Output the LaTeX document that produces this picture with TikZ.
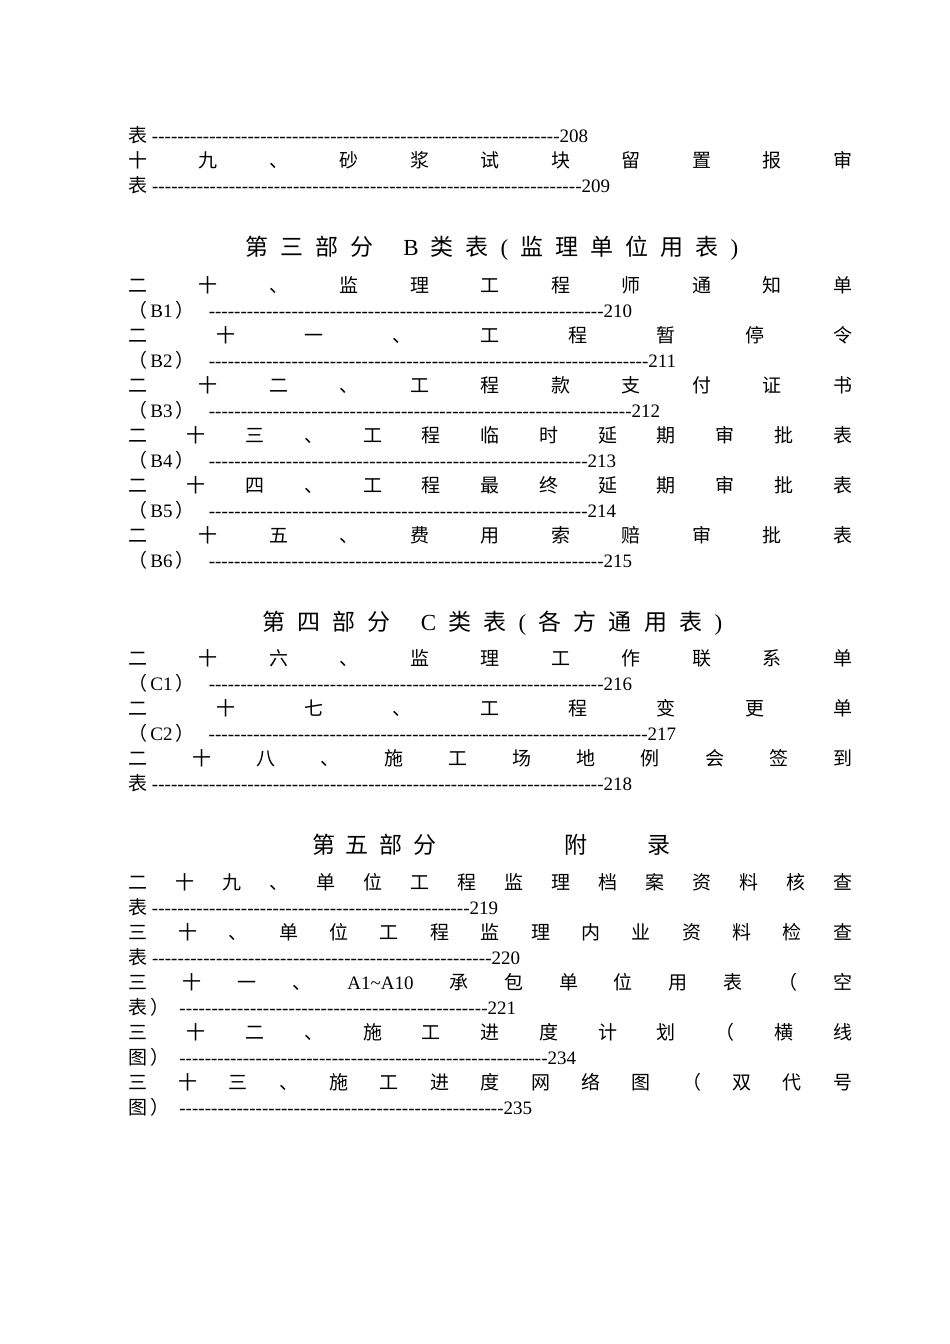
\documentclass[tikz,border=0pt]{standalone}
\usepackage{fontspec}
\setmainfont{Liberation Serif}
\newfontfamily\cjk{Noto Sans CJK SC}
\newcommand\Cc[1]{{\cjk #1}}
\newcommand\Jl[2]{\node[anchor=base west,inner sep=0,font=\fontsize{19}{19}\selectfont] (j#1) at (128pt,-#1pt) {\makebox[724pt][s]{#2}};}
\newcommand\Dl[4]{\node[anchor=base west,inner sep=0,font=\fontsize{19}{19}\selectfont] (d#1) at (128pt,-#1pt) {\makebox[#2pt][l]{#3\xleaders\hbox{-}\hfill #4}};}
\newcommand\Hd[4]{\node[anchor=base west,inner sep=0,font=\fontsize{23}{23}\selectfont] (h#1) at (#2pt,-#1pt) {\makebox[#3pt][s]{#4}};}
\newcommand\ff{\hfill}
\begin{document}
\begin{tikzpicture}
\useasboundingbox (0,0) rectangle (950pt,-1344pt);
\Dl{142}{460}{\Cc{表}\ }{208}
\Jl{167}{\Cc{十}\ff\Cc{九}\ff\Cc{、}\ff\Cc{砂}\ff\Cc{浆}\ff\Cc{试}\ff\Cc{块}\ff\Cc{留}\ff\Cc{置}\ff\Cc{报}\ff\Cc{审}}
\Dl{192}{482}{\Cc{表}\ }{209}
\Hd{255}{245}{493}{\Cc{第}\ff\Cc{三}\ff\Cc{部}\ff\Cc{分}\hspace{30pt}B\ff\Cc{类}\ff\Cc{表}\ff(\ff\Cc{监}\ff\Cc{理}\ff\Cc{单}\ff\Cc{位}\ff\Cc{用}\ff\Cc{表}\ff)}
\Jl{292}{\Cc{二}\ff\Cc{十}\ff\Cc{、}\ff\Cc{监}\ff\Cc{理}\ff\Cc{工}\ff\Cc{程}\ff\Cc{师}\ff\Cc{通}\ff\Cc{知}\ff\Cc{单}}
\Dl{317}{504}{\Cc{（}\,B1\,\Cc{）}\hspace{14pt}}{210}
\Jl{342}{\Cc{二}\ff\Cc{十}\ff\Cc{一}\ff\Cc{、}\ff\Cc{工}\ff\Cc{程}\ff\Cc{暂}\ff\Cc{停}\ff\Cc{令}}
\Dl{367}{548}{\Cc{（}\,B2\,\Cc{）}\hspace{14pt}}{211}
\Jl{392}{\Cc{二}\ff\Cc{十}\ff\Cc{二}\ff\Cc{、}\ff\Cc{工}\ff\Cc{程}\ff\Cc{款}\ff\Cc{支}\ff\Cc{付}\ff\Cc{证}\ff\Cc{书}}
\Dl{417}{532}{\Cc{（}\,B3\,\Cc{）}\hspace{14pt}}{212}
\Jl{442}{\Cc{二}\ff\Cc{十}\ff\Cc{三}\ff\Cc{、}\ff\Cc{工}\ff\Cc{程}\ff\Cc{临}\ff\Cc{时}\ff\Cc{延}\ff\Cc{期}\ff\Cc{审}\ff\Cc{批}\ff\Cc{表}}
\Dl{467}{488}{\Cc{（}\,B4\,\Cc{）}\hspace{14pt}}{213}
\Jl{492}{\Cc{二}\ff\Cc{十}\ff\Cc{四}\ff\Cc{、}\ff\Cc{工}\ff\Cc{程}\ff\Cc{最}\ff\Cc{终}\ff\Cc{延}\ff\Cc{期}\ff\Cc{审}\ff\Cc{批}\ff\Cc{表}}
\Dl{517}{488}{\Cc{（}\,B5\,\Cc{）}\hspace{14pt}}{214}
\Jl{542}{\Cc{二}\ff\Cc{十}\ff\Cc{五}\ff\Cc{、}\ff\Cc{费}\ff\Cc{用}\ff\Cc{索}\ff\Cc{赔}\ff\Cc{审}\ff\Cc{批}\ff\Cc{表}}
\Dl{567}{504}{\Cc{（}\,B6\,\Cc{）}\hspace{14pt}}{215}
\Hd{630}{262}{460}{\Cc{第}\ff\Cc{四}\ff\Cc{部}\ff\Cc{分}\hspace{30pt}C\ff\Cc{类}\ff\Cc{表}\ff(\ff\Cc{各}\ff\Cc{方}\ff\Cc{通}\ff\Cc{用}\ff\Cc{表}\ff)}
\Jl{665}{\Cc{二}\ff\Cc{十}\ff\Cc{六}\ff\Cc{、}\ff\Cc{监}\ff\Cc{理}\ff\Cc{工}\ff\Cc{作}\ff\Cc{联}\ff\Cc{系}\ff\Cc{单}}
\Dl{690}{504}{\Cc{（}\,C1\,\Cc{）}\hspace{14pt}}{216}
\Jl{715}{\Cc{二}\ff\Cc{十}\ff\Cc{七}\ff\Cc{、}\ff\Cc{工}\ff\Cc{程}\ff\Cc{变}\ff\Cc{更}\ff\Cc{单}}
\Dl{740}{548}{\Cc{（}\,C2\,\Cc{）}\hspace{14pt}}{217}
\Jl{765}{\Cc{二}\ff\Cc{十}\ff\Cc{八}\ff\Cc{、}\ff\Cc{施}\ff\Cc{工}\ff\Cc{场}\ff\Cc{地}\ff\Cc{例}\ff\Cc{会}\ff\Cc{签}\ff\Cc{到}}
\Dl{790}{504}{\Cc{表}\ }{218}
\node[anchor=base west,inner sep=0,font=\fontsize{23}{23}\selectfont] (h5) at (312pt,-853pt) {\makebox[124pt][s]{\Cc{第}\ff\Cc{五}\ff\Cc{部}\ff\Cc{分}}};
\node[anchor=base west,inner sep=0,font=\fontsize{23}{23}\selectfont] (h5b) at (564pt,-853pt) {\Cc{附}};
\node[anchor=base west,inner sep=0,font=\fontsize{23}{23}\selectfont] (h5c) at (647pt,-853pt) {\Cc{录}};
\Jl{889}{\Cc{二}\ff\Cc{十}\ff\Cc{九}\ff\Cc{、}\ff\Cc{单}\ff\Cc{位}\ff\Cc{工}\ff\Cc{程}\ff\Cc{监}\ff\Cc{理}\ff\Cc{档}\ff\Cc{案}\ff\Cc{资}\ff\Cc{料}\ff\Cc{核}\ff\Cc{查}}
\Dl{914}{370}{\Cc{表}\ }{219}
\Jl{939}{\Cc{三}\ff\Cc{十}\ff\Cc{、}\ff\Cc{单}\ff\Cc{位}\ff\Cc{工}\ff\Cc{程}\ff\Cc{监}\ff\Cc{理}\ff\Cc{内}\ff\Cc{业}\ff\Cc{资}\ff\Cc{料}\ff\Cc{检}\ff\Cc{查}}
\Dl{964}{392}{\Cc{表}\ }{220}
\Jl{989}{\Cc{三}\ff\Cc{十}\ff\Cc{一}\ff\Cc{、}\ff A1\char`~A10\ff\Cc{承}\ff\Cc{包}\ff\Cc{单}\ff\Cc{位}\ff\Cc{用}\ff\Cc{表}\ff\Cc{（}\ff\Cc{空}}
\Dl{1014}{388}{\Cc{表}\,\Cc{）}\hspace{10pt}}{221}
\Jl{1039}{\Cc{三}\ff\Cc{十}\ff\Cc{二}\ff\Cc{、}\ff\Cc{施}\ff\Cc{工}\ff\Cc{进}\ff\Cc{度}\ff\Cc{计}\ff\Cc{划}\ff\Cc{（}\ff\Cc{横}\ff\Cc{线}}
\Dl{1064}{448}{\Cc{图}\,\Cc{）}\hspace{10pt}}{234}
\Jl{1089}{\Cc{三}\ff\Cc{十}\ff\Cc{三}\ff\Cc{、}\ff\Cc{施}\ff\Cc{工}\ff\Cc{进}\ff\Cc{度}\ff\Cc{网}\ff\Cc{络}\ff\Cc{图}\ff\Cc{（}\ff\Cc{双}\ff\Cc{代}\ff\Cc{号}}
\Dl{1114}{404}{\Cc{图}\,\Cc{）}\hspace{10pt}}{235}
\end{tikzpicture}
\end{document}
